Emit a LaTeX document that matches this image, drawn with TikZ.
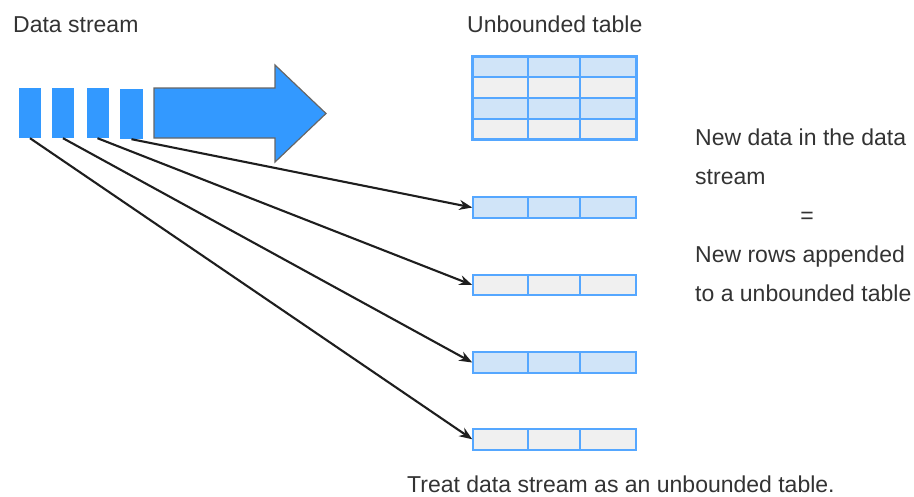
\documentclass[tikz,border=0pt]{standalone}
\usepackage{fontspec}
\setmainfont{Liberation Sans}
\usetikzlibrary{arrows.meta}
\definecolor{streamblue}{HTML}{3399FF}
\definecolor{tblborder}{HTML}{55A7FF}
\definecolor{rowblue}{HTML}{D0E4F8}
\definecolor{rowgray}{HTML}{F0F0F0}
\definecolor{txt}{HTML}{333333}
\definecolor{conn}{HTML}{1E1E1E}
\begin{document}
\begin{tikzpicture}[x=1pt,y=-1pt,
  lbl/.style={text=txt,font=\fontsize{23}{23}\selectfont,inner sep=0pt,anchor=base west},
  chunk/.style={fill=streamblue,draw=none,minimum width=22pt,minimum height=50pt,inner sep=0pt},
  rowbox/.style={draw=tblborder,line width=2pt,minimum width=162.5pt,minimum height=20.5pt,inner sep=0pt},
  bluerow/.style={rowbox,fill=rowblue},
  grayrow/.style={rowbox,fill=rowgray},
  coldiv/.style={draw=tblborder,line width=2pt},
  feed/.style={draw=conn,line width=2.1pt,-{Stealth[length=13pt,width=10pt]}}
]
\useasboundingbox (0,0) rectangle (914,496);

% labels
\node[lbl] (ds) at (13,32) {Data stream};
\node[lbl] (ut) at (467,32) {Unbounded table};
\node[lbl] (n1) at (695,145.5) {New data in the data};
\node[lbl] (n2) at (695,184.3) {stream};
\node[text=txt,font=\fontsize{23}{23}\selectfont,inner sep=0pt,anchor=base] (eq) at (807,223) {=};
\node[lbl] (n3) at (695,262.7) {New rows appended};
\node[lbl] (n4) at (695,301.5) {to a unbounded table};
\node[lbl] (tr) at (407,492) {Treat data stream as an unbounded table.};

% stream chunks
\node[chunk] (s1) at (30,113) {};
\node[chunk] (s2) at (63,113) {};
\node[chunk] (s3) at (97.5,113) {};
\node[chunk,minimum width=23pt] (s4) at (131.5,114) {};

% big arrow
\draw[fill=streamblue,draw=gray!80!black,line width=1.2pt,line join=miter]
  (154,88) -- (275,88) -- (275,65) -- (326,113.5) -- (275,162) -- (275,138) -- (154,138) -- cycle;

% top table
\node[bluerow] (t1) at (554.5,67) {};
\node[grayrow] (t2) at (554.5,87.7) {};
\node[bluerow] (t3) at (554.5,108.4) {};
\node[grayrow] (t4) at (554.5,129.1) {};
\draw[coldiv] (t1.north west) rectangle (t4.south east);
\draw[coldiv] ([xshift=55.4pt]t1.north west) -- ([xshift=55.4pt]t4.south west);
\draw[coldiv] ([xshift=107.4pt]t1.north west) -- ([xshift=107.4pt]t4.south west);

% appended rows
\node[bluerow] (r1) at (554.5,207.5) {};
\node[grayrow] (r2) at (554.5,285) {};
\node[bluerow] (r3) at (554.5,362.5) {};
\node[grayrow] (r4) at (554.5,439.3) {};
\foreach \r in {r1,r2,r3,r4}{
  \draw[coldiv] ([xshift=55.4pt]\r.north west) -- ([xshift=55.4pt]\r.south west);
  \draw[coldiv] ([xshift=107.4pt]\r.north west) -- ([xshift=107.4pt]\r.south west);
}

% connectors
\draw[feed] (s4.south) -- (r1.west);
\draw[feed] (s3.south) -- (r2.west);
\draw[feed] (s2.south) -- (r3.west);
\draw[feed] (s1.south) -- (r4.west);
\end{tikzpicture}
\end{document}
